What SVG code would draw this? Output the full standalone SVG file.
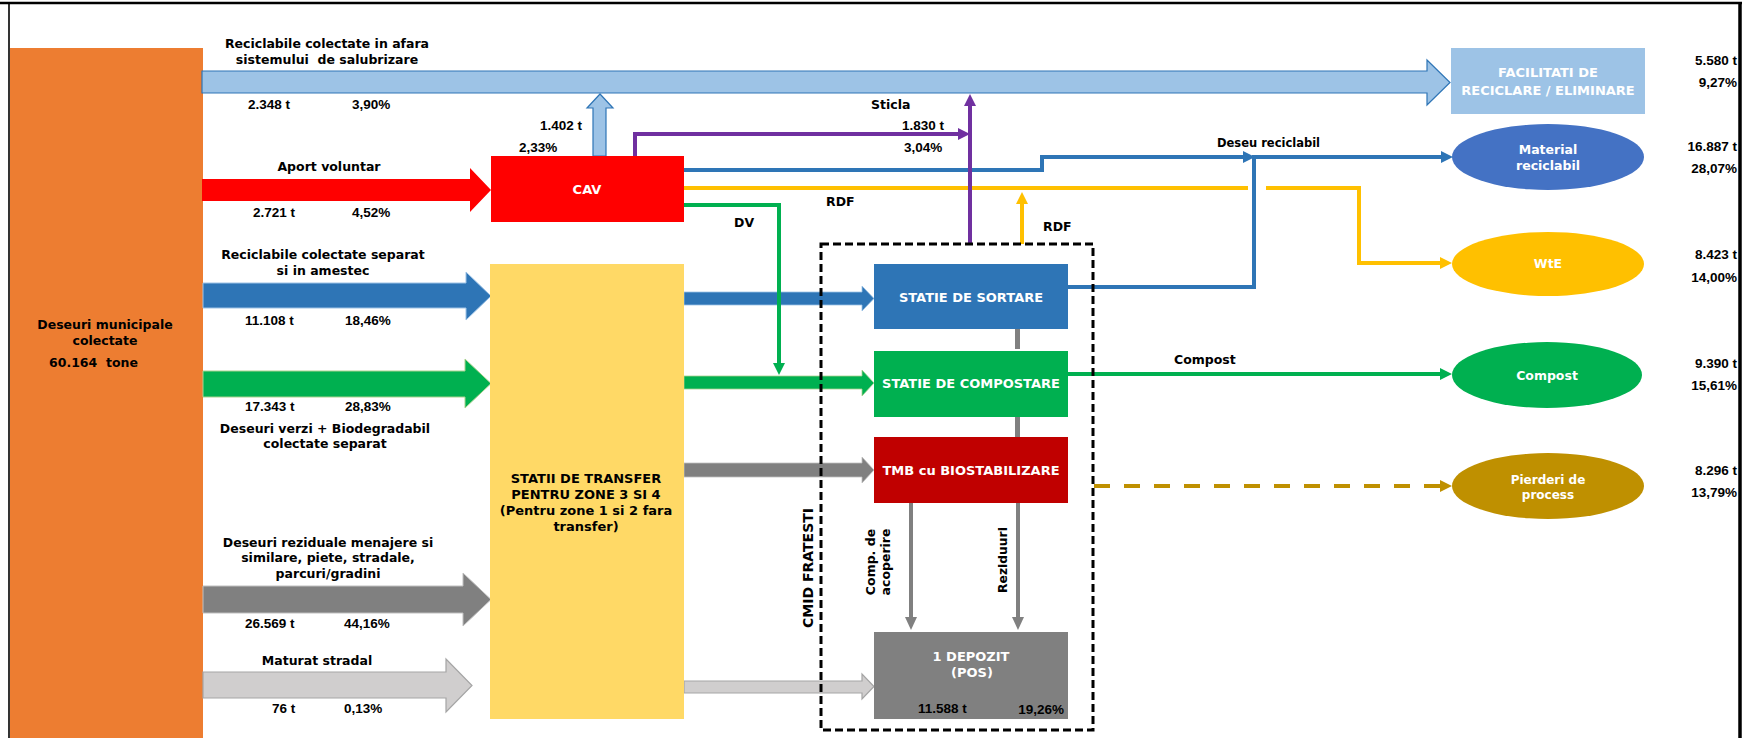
<svg xmlns="http://www.w3.org/2000/svg" width="1754" height="738" viewBox="0 0 1754 738">
<defs>
<style>
.l{font-family:"DejaVu Sans",Verdana,sans-serif;font-weight:bold;font-size:12.5px;fill:#000}
.n{font-family:"Liberation Sans",Arial,sans-serif;font-weight:bold;font-size:13.5px;fill:#000}
.w{font-family:"DejaVu Sans",Verdana,sans-serif;font-weight:bold;font-size:13px;fill:#fff}
.m{text-anchor:middle}
.e{text-anchor:end}
.pre{white-space:pre}
.ln{fill:none;stroke-width:4}
</style>
<marker id="aP" markerUnits="userSpaceOnUse" markerWidth="12" markerHeight="12" viewBox="0 0 12 12" refX="3" refY="6" orient="auto"><path d="M0,0L12,6L0,12z" fill="#7030A0"/></marker>
<marker id="aB" markerUnits="userSpaceOnUse" markerWidth="12" markerHeight="12" viewBox="0 0 12 12" refX="3" refY="6" orient="auto"><path d="M0,0L12,6L0,12z" fill="#2E75B6"/></marker>
<marker id="aY" markerUnits="userSpaceOnUse" markerWidth="12" markerHeight="12" viewBox="0 0 12 12" refX="3" refY="6" orient="auto"><path d="M0,0L12,6L0,12z" fill="#FFC000"/></marker>
<marker id="aG" markerUnits="userSpaceOnUse" markerWidth="12" markerHeight="12" viewBox="0 0 12 12" refX="3" refY="6" orient="auto"><path d="M0,0L12,6L0,12z" fill="#00B050"/></marker>
<marker id="aK" markerUnits="userSpaceOnUse" markerWidth="13" markerHeight="13" viewBox="0 0 13 12" refX="3" refY="6" orient="auto"><path d="M0,0L13,6L0,12z" fill="#808080"/></marker>
<marker id="aO" markerUnits="userSpaceOnUse" markerWidth="12" markerHeight="12" viewBox="0 0 12 12" refX="3" refY="6" orient="auto"><path d="M0,0L12,6L0,12z" fill="#BF9000"/></marker>
</defs>
<rect width="1754" height="738" fill="#fff"/>

<!-- frame -->
<g id="frame" stroke="#000" fill="none">
<line x1="0" y1="3" x2="1742" y2="3" stroke-width="2.5"/>
<line x1="9" y1="3" x2="9" y2="738" stroke-width="1.6"/>
<line x1="1740" y1="2" x2="1740" y2="738" stroke-width="3.5"/>
</g>

<!-- source node -->
<g id="deseuri-municipale">
<rect x="10" y="48" width="193" height="690" fill="#ED7D31"/>
<text class="l m" x="105" y="329">Deseuri municipale</text>
<text class="l m" x="105" y="345">colectate</text>
<text class="l pre" x="49" y="367">60.164  tone</text>
</g>

<!-- flow arrows (block arrows) -->
<g id="flow-reciclabile-afara">
<path d="M202,71H1427V60L1450,82.5L1427,105V93H202Z" fill="#9DC3E6" stroke="#2E75B6" stroke-width="1.2"/>
<text class="l m" x="327" y="48">Reciclabile colectate in afara</text>
<text class="l m pre" x="327" y="64">sistemului  de salubrizare</text>
<text class="n" x="248" y="109">2.348 t</text>
<text class="n" x="352" y="109">3,90%</text>
</g>
<g id="flow-cav-up">
<path d="M593,156V108H587L600,94L613,108H606V156Z" fill="#9DC3E6" stroke="#2E75B6" stroke-width="1.2"/>
<text class="n" x="540" y="130">1.402 t</text>
<text class="n" x="519" y="152">2,33%</text>
</g>
<g id="flow-aport">
<path d="M202,179H470V168L491,190L470,212V201H202Z" fill="#FF0000"/>
<text class="l m" x="329" y="171">Aport voluntar</text>
<text class="n" x="253" y="217">2.721 t</text>
<text class="n" x="352" y="217">4,52%</text>
</g>
<g id="flow-reciclabile-separat">
<path d="M203,283H466V272L491,296L466,320V308H203Z" fill="#2E75B6" stroke="#9DC3E6" stroke-width="1"/>
<text class="l m" x="323" y="259">Reciclabile colectate separat</text>
<text class="l m" x="323" y="275">si in amestec</text>
<text class="n" x="245" y="325">11.108 t</text>
<text class="n" x="345" y="325">18,46%</text>
</g>
<g id="flow-verzi">
<path d="M203,371H465V359L491,383.5L465,408V397H203Z" fill="#00B050" stroke="#A9D18E" stroke-width="1"/>
<text class="n" x="245" y="411">17.343 t</text>
<text class="n" x="345" y="411">28,83%</text>
<text class="l m" x="325" y="433">Deseuri verzi + Biodegradabil</text>
<text class="l m" x="325" y="448">colectate separat</text>
</g>
<g id="flow-reziduale">
<path d="M203,586H463V573L491,599.5L463,626V613H203Z" fill="#808080" stroke="#BFBFBF" stroke-width="1"/>
<text class="l m" x="328" y="547">Deseuri reziduale menajere si</text>
<text class="l m" x="328" y="562">similare, piete, stradale,</text>
<text class="l m" x="328" y="578">parcuri/gradini</text>
<text class="n" x="245" y="628">26.569 t</text>
<text class="n" x="344" y="628">44,16%</text>
</g>
<g id="flow-maturat">
<path d="M203,672H446V659L472,685.5L446,712V698H203Z" fill="#D0CECE" stroke="#A5A5A5" stroke-width="1.2"/>
<text class="l m" x="317" y="665">Maturat stradal</text>
<text class="n" x="272" y="713">76 t</text>
<text class="n" x="344" y="713">0,13%</text>
</g>

<!-- arrows out of transfer stations -->
<g id="flow-transfer-out">
<path d="M684,292H862V286L874,298.5L862,311V305H684Z" fill="#2E75B6" stroke="#9DC3E6" stroke-width="0.8"/>
<path d="M684,376H862V370L874,383L862,396V389H684Z" fill="#00B050" stroke="#A9D18E" stroke-width="0.8"/>
<path d="M684,463H862V457L874,470L862,483V477H684Z" fill="#808080" stroke="#BFBFBF" stroke-width="0.8"/>
<path d="M684,681H862V674L874,686.5L862,699V693H684Z" fill="#D0CECE" stroke="#A5A5A5" stroke-width="1.2"/>
</g>

<!-- nodes -->
<g id="cav">
<rect x="491" y="156" width="193" height="66" fill="#FF0000"/>
<text class="w m" x="587" y="194">CAV</text>
</g>
<g id="statii-transfer">
<rect x="490" y="264" width="194" height="455" fill="#FFD966"/>
<text class="l m" style="font-size:13px" x="586" y="483">STATII DE TRANSFER</text>
<text class="l m" style="font-size:13px" x="586" y="499">PENTRU ZONE 3 SI 4</text>
<text class="l m" style="font-size:13px" x="586" y="515">(Pentru zone 1 si 2 fara</text>
<text class="l m" style="font-size:13px" x="586" y="531">transfer)</text>
</g>
<g id="statie-sortare">
<rect x="874" y="264" width="194" height="65" fill="#2E75B6"/>
<text class="w m" x="971" y="302">STATIE DE SORTARE</text>
</g>
<g id="statie-compostare">
<rect x="874" y="351" width="194" height="66" fill="#00B050"/>
<text class="w m" x="971" y="388">STATIE DE COMPOSTARE</text>
</g>
<g id="tmb">
<rect x="874" y="437" width="194" height="66" fill="#C00000"/>
<text class="w m" x="971" y="475">TMB cu BIOSTABILIZARE</text>
</g>
<g id="depozit">
<rect x="874" y="632" width="194" height="87" fill="#808080"/>
<text class="w m" x="971" y="661">1 DEPOZIT</text>
<text class="w m" x="972" y="677">(POS)</text>
<text class="n" x="918" y="713">11.588 t</text>
<text class="n e" x="1064" y="714">19,26%</text>
</g>
<g id="facilitati">
<rect x="1451" y="48" width="194" height="66" fill="#9DC3E6"/>
<text class="w m" x="1548" y="77">FACILITATI DE</text>
<text class="w m" x="1548" y="95">RECICLARE / ELIMINARE</text>
<text class="n e" x="1737" y="65">5.580 t</text>
<text class="n e" x="1737" y="87">9,27%</text>
</g>
<g id="material-reciclabil">
<ellipse cx="1548" cy="157" rx="96" ry="33" fill="#4472C4"/>
<text class="w m" style="font-size:12.5px" x="1548" y="154">Material</text>
<text class="w m" style="font-size:12.5px" x="1548" y="170">reciclabil</text>
<text class="n e" x="1737" y="151">16.887 t</text>
<text class="n e" x="1737" y="173">28,07%</text>
</g>
<g id="wte">
<ellipse cx="1548" cy="264" rx="96" ry="32" fill="#FFC000"/>
<text class="w m" style="font-size:12.5px" x="1548" y="268">WtE</text>
<text class="n e" x="1737" y="259">8.423 t</text>
<text class="n e" x="1737" y="282">14,00%</text>
</g>
<g id="compost">
<ellipse cx="1547" cy="375" rx="95" ry="33" fill="#00B050"/>
<text class="w m" style="font-size:12.5px" x="1547" y="380">Compost</text>
<text class="n e" x="1737" y="368">9.390 t</text>
<text class="n e" x="1737" y="390">15,61%</text>
</g>
<g id="pierderi">
<ellipse cx="1548" cy="486" rx="96" ry="33" fill="#BF9000"/>
<text class="w m" style="font-size:12px" x="1548" y="484">Pierderi de</text>
<text class="w m" style="font-size:12px" x="1548" y="499">process</text>
<text class="n e" x="1737" y="475">8.296 t</text>
<text class="n e" x="1737" y="497">13,79%</text>
</g>

<!-- connectors -->
<g id="connectors">
<path class="ln" stroke="#2E75B6" d="M684,170H1042V157H1246" marker-end="url(#aB)"/>
<path class="ln" stroke="#2E75B6" d="M1068,287H1254V157H1444" marker-end="url(#aB)"/>
<path class="ln" stroke="#FFC000" d="M684,188H1248"/>
<path class="ln" stroke="#FFC000" d="M1266,188H1359V263H1443" marker-end="url(#aY)"/>
<path class="ln" stroke="#FFC000" d="M1022,244V201" marker-end="url(#aY)"/>
<path class="ln" stroke="#7030A0" d="M635,156V134H961" marker-end="url(#aP)"/>
<path class="ln" stroke="#7030A0" d="M970,244V103" marker-end="url(#aP)"/>
<path class="ln" stroke="#00B050" d="M684,205H779V366" marker-end="url(#aG)"/>
<path class="ln" stroke="#00B050" d="M1068,374H1443" marker-end="url(#aG)"/>
<rect x="1015" y="329" width="5" height="20" fill="#808080"/>
<rect x="1015" y="417" width="5" height="20" fill="#808080"/>
<path class="ln" stroke="#808080" d="M911,503V620" marker-end="url(#aK)"/>
<path class="ln" stroke="#808080" d="M1018,503V620" marker-end="url(#aK)"/>
<path class="ln" stroke="#BF9000" stroke-dasharray="16 14" d="M1094,486H1443" marker-end="url(#aO)"/>
<text class="l" x="871" y="109">Sticla</text>
<text class="n" x="902" y="130">1.830 t</text>
<text class="n" x="904" y="152">3,04%</text>
<text class="l" x="826" y="206">RDF</text>
<text class="l" x="734" y="227">DV</text>
<text class="l" x="1043" y="231">RDF</text>
<text class="l" style="font-size:11.5px" x="1217" y="147">Deseu reciclabil</text>
<text class="l" x="1174" y="364">Compost</text>
<text class="l m" style="font-size:12.5px" transform="translate(875,562) rotate(-90)">Comp. de</text>
<text class="l m" style="font-size:12.5px" transform="translate(890,562) rotate(-90)">acoperire</text>
<text class="l m" style="font-size:12.3px" transform="translate(1007,560) rotate(-90)">Reziduuri</text>
</g>

<!-- CMID boundary -->
<g id="cmid-fratesti">
<rect x="821" y="244" width="272" height="486" fill="none" stroke="#000" stroke-width="3" stroke-dasharray="8 4"/>
<text class="l m" style="font-size:14px" transform="translate(813,568) rotate(-90)">CMID FRATESTI</text>
</g>
</svg>
